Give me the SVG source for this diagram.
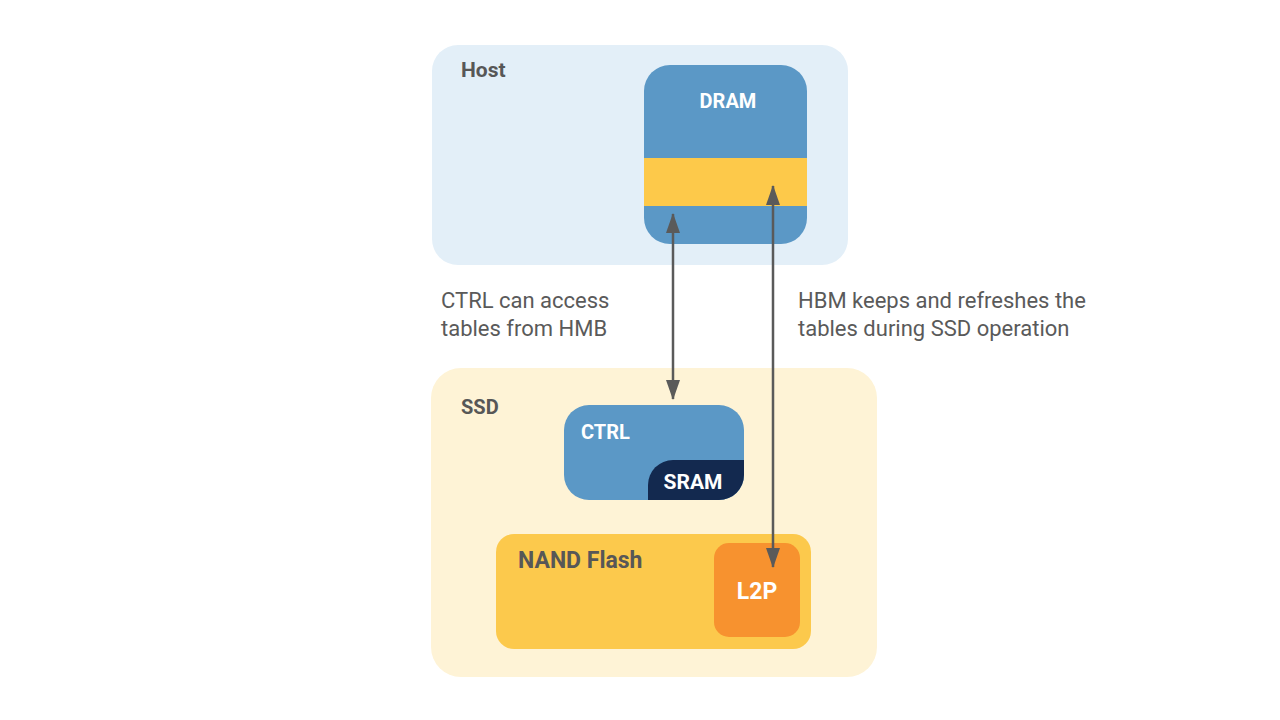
<svg xmlns="http://www.w3.org/2000/svg" width="1280" height="720" viewBox="0 0 1280 720">
<style>
.lbl{font-family:Roboto,"Liberation Sans",sans-serif;font-weight:bold;font-size:20px;fill:#575757}
.wt{font-family:Roboto,"Liberation Sans",sans-serif;font-weight:bold;font-size:20px;fill:#ffffff}
.note{font-family:Roboto,"Liberation Sans",sans-serif;font-size:22px;fill:#5a5a5a}
.conn{stroke:#5a5a5a;stroke-width:2.5;fill:none;marker-start:url(#ah);marker-end:url(#ah)}
</style>
<defs>
<marker id="ah" viewBox="0 0 20 14" refX="19" refY="7" markerWidth="20" markerHeight="14" markerUnits="userSpaceOnUse" orient="auto-start-reverse">
<path d="M0,0 L20,7 L0,14 Z" fill="#5a5a5a"/>
</marker>
<clipPath id="ctrlClip"><rect x="564" y="405" width="180" height="95" rx="25"/></clipPath>
</defs>
<rect width="1280" height="720" fill="#ffffff"/>
<g id="host">
<rect x="432" y="45" width="416" height="220" rx="26" fill="#e3eff8"/>
<text class="lbl" x="461" y="77" style="font-size:21px">Host</text>
</g>
<g id="dram">
<rect x="644" y="65" width="163" height="179" rx="26" fill="#5b98c6"/>
<rect x="644" y="158" width="163" height="48" fill="#fdc94a"/>
<text class="wt" x="728" y="108" text-anchor="middle">DRAM</text>
</g>
<g id="ssd">
<rect x="431" y="368" width="446" height="309" rx="30" fill="#fef3d6"/>
<text class="lbl" x="461" y="414">SSD</text>
</g>
<g id="ctrl">
<rect x="564" y="405" width="180" height="95" rx="25" fill="#5b98c6"/>
<text class="wt" x="581" y="439">CTRL</text>
</g>
<g id="sram">
<rect x="648" y="460" width="140" height="80" rx="25" fill="#13294f" clip-path="url(#ctrlClip)"/>
<text class="wt" x="693" y="489" text-anchor="middle" style="font-size:21px">SRAM</text>
</g>
<g id="nand">
<rect x="496" y="534" width="315" height="115" rx="18" fill="#fcc94c"/>
<text class="lbl" x="518" y="568" style="font-size:23px">NAND Flash</text>
</g>
<g id="l2p">
<rect x="714" y="543" width="86" height="94" rx="15" fill="#f7922f"/>
<text class="wt" x="757" y="599" text-anchor="middle" style="font-size:23px">L2P</text>
</g>
<g id="connectors">
<line class="conn" x1="673" y1="214" x2="673" y2="399"/>
<line class="conn" x1="773" y1="186" x2="773" y2="567"/>
</g>
<g id="notes">
<text class="note" x="441" y="308">CTRL can access</text>
<text class="note" x="441" y="336">tables from HMB</text>
<text class="note" x="798" y="308">HBM keeps and refreshes the</text>
<text class="note" x="798" y="336">tables during SSD operation</text>
</g>
</svg>
